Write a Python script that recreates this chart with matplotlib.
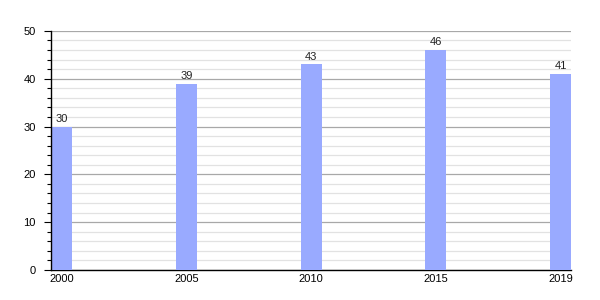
import numpy as np
import matplotlib
matplotlib.use("Agg")
import matplotlib.pyplot as plt
from matplotlib.ticker import MultipleLocator

plt.rcParams["font.family"] = ["Liberation Sans", "DejaVu Sans"]

YEARS = ["2000", "2005", "2010", "2015", "2019"]
VALUES = [30, 39, 43, 46, 41]
BAR = "#99aaff"

fig = plt.figure(figsize=(6, 3), dpi=100)
ax = fig.add_axes([0.085, 0.1, 0.867, 0.797])

x = np.arange(len(YEARS))
w = 0.168
bars = ax.bar(x, VALUES, width=w, align="edge", color=BAR, zorder=3)
for b, v in zip(bars, VALUES):
    ax.text(b.get_x() + b.get_width() / 2, v + 0.6, str(v), ha="center", va="bottom",
            fontsize=8, color="#222222", zorder=4)

ax.set_xlim(0, len(YEARS) - 1 + w)
ax.set_ylim(0, 50)
ax.set_xticks(x + w / 2)
ax.set_xticklabels(YEARS)
ax.tick_params(axis="x", length=0, pad=3, labelsize=8)
ax.yaxis.set_major_locator(MultipleLocator(10))
ax.yaxis.set_minor_locator(MultipleLocator(2))
ax.tick_params(axis="y", which="major", length=5, width=0.8, labelsize=8, pad=6)
ax.tick_params(axis="y", which="minor", length=3, width=0.8)
ax.grid(axis="y", which="major", color="#a8a8a8", lw=0.9, zorder=1)
ax.grid(axis="y", which="minor", color="#e2e2e2", lw=0.9, zorder=0)
for s in ("top", "right"):
    ax.spines[s].set_visible(False)
ax.spines["left"].set_linewidth(1.0)
ax.spines["bottom"].set_linewidth(1.0)
ax.spines["left"].set_zorder(5)

fig.savefig("out.png", dpi=100)
